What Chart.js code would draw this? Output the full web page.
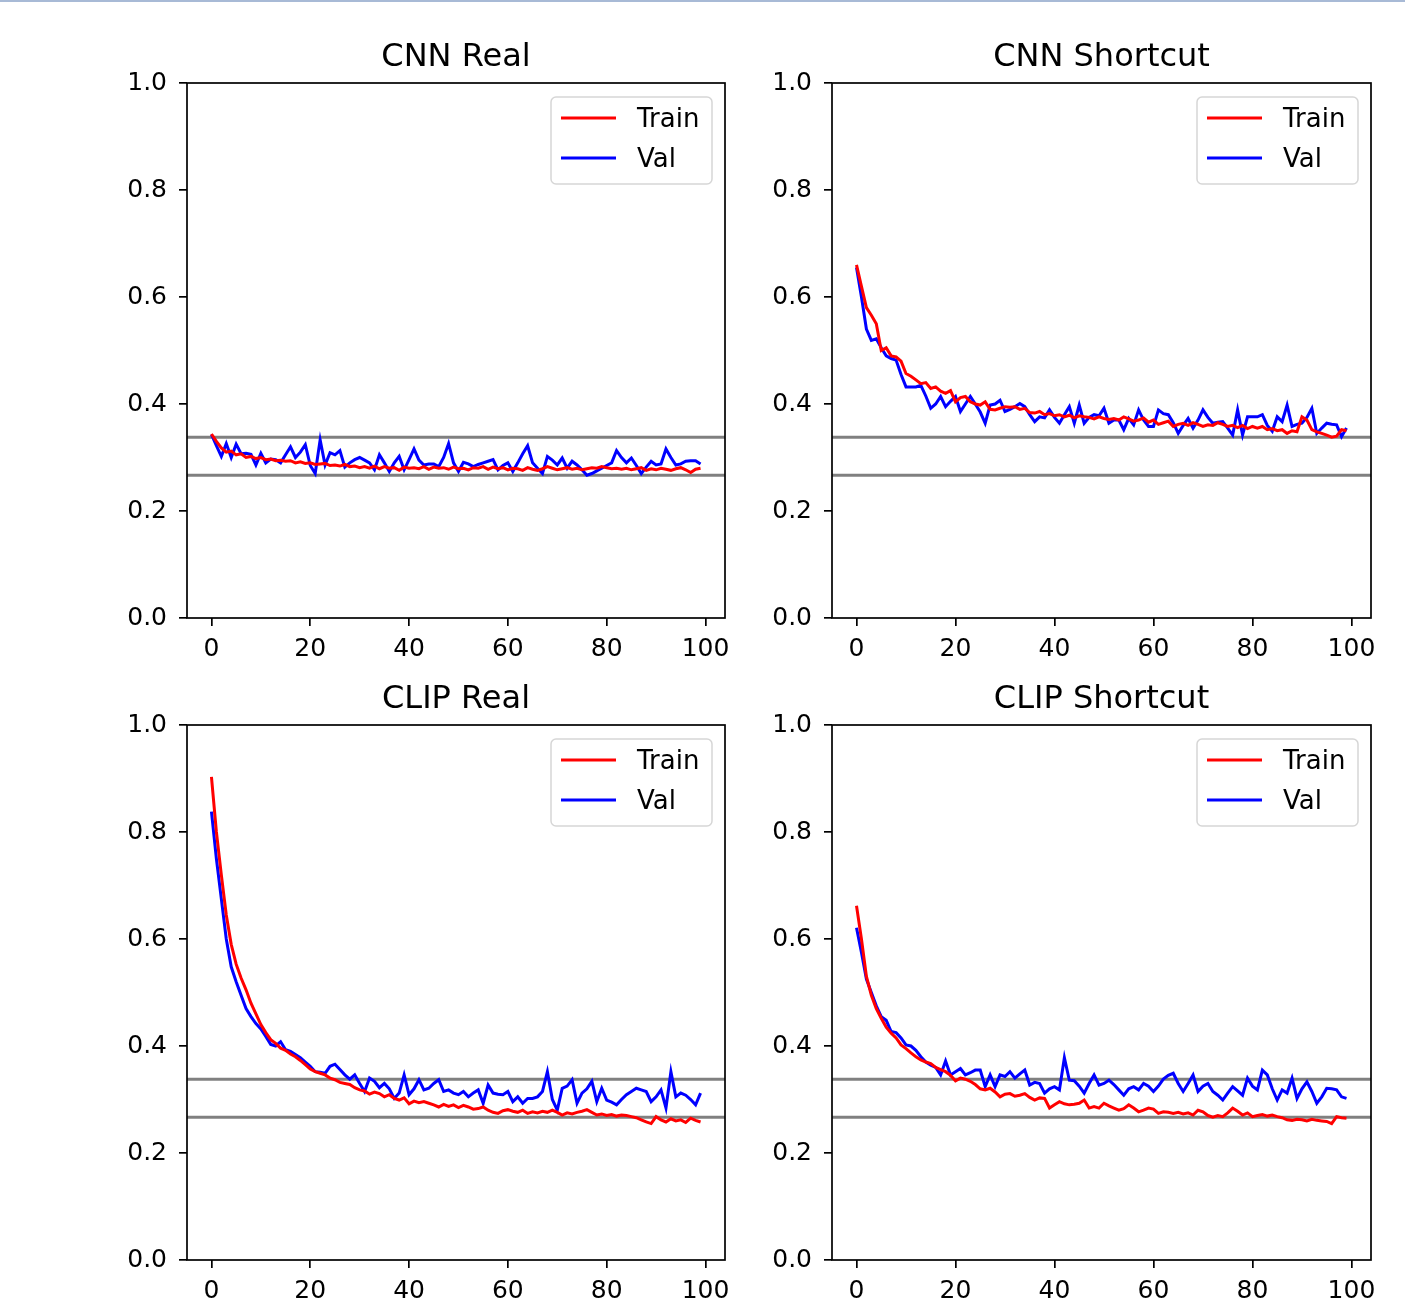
<!DOCTYPE html>
<html>
<head>
<meta charset="utf-8">
<title>Loss curves</title>
<script src="https://cdn.jsdelivr.net/npm/chart.js@4.4.1/dist/chart.umd.min.js"></script>
<style>
  body { margin: 0; background: #fff; }
  #page { position: relative; width: 1405px; height: 1314px; overflow: hidden; background: #fff; }
  #topline { position: absolute; left: 0; top: 0; width: 1405px; height: 2px; background: #a8bad6; }
  canvas { position: absolute; }
</style>
</head>
<body>
<div id="page">
  <div id="topline"></div>
  <canvas id="cnnReal" width="640" height="648" style="left:100px;top:20px"></canvas>
  <canvas id="cnnShortcut" width="641" height="648" style="left:745px;top:20px"></canvas>
  <canvas id="clipReal" width="640" height="648" style="left:100px;top:662px"></canvas>
  <canvas id="clipShortcut" width="641" height="648" style="left:745px;top:662px"></canvas>
</div>
<script>
// epochs 0..99 on the x axis
const epochs = Array.from({ length: 100 }, (_, i) => i);
const xTicks = [0, 20, 40, 60, 80, 100];
const yTicks = [0.0, 0.2, 0.4, 0.6, 0.8, 1.0];
const xMin = -4.95, xMax = 103.95;

// reference lines (axhline)
const refLines = [0.338, 0.267];

const cnnRealTrain = [
  0.344, 0.330, 0.318, 0.310, 0.312, 0.305, 0.307, 0.300, 0.302, 0.298,
  0.300, 0.296, 0.297, 0.294, 0.295, 0.293, 0.294, 0.290, 0.292, 0.289,
  0.290, 0.287, 0.288, 0.289, 0.285, 0.286, 0.284, 0.287, 0.283, 0.284,
  0.281, 0.283, 0.280, 0.284, 0.279, 0.283, 0.280, 0.281, 0.276, 0.282,
  0.280, 0.281, 0.279, 0.283, 0.278, 0.282, 0.280, 0.281, 0.278, 0.282,
  0.279, 0.280, 0.277, 0.281, 0.280, 0.283, 0.278, 0.282, 0.279, 0.281,
  0.277, 0.280, 0.279, 0.276, 0.281, 0.278, 0.276, 0.279, 0.283, 0.280,
  0.277, 0.279, 0.281, 0.278, 0.280, 0.277, 0.279, 0.281, 0.280, 0.283,
  0.281, 0.279, 0.280, 0.278, 0.280, 0.277, 0.279, 0.281, 0.276, 0.279,
  0.277, 0.280, 0.278, 0.276, 0.279, 0.281, 0.277, 0.272, 0.278, 0.280
];
const cnnRealVal = [
  0.343, 0.322, 0.302, 0.326, 0.300, 0.325, 0.307, 0.308, 0.306, 0.286,
  0.308, 0.290, 0.297, 0.296, 0.290, 0.305, 0.320, 0.300, 0.310, 0.324,
  0.285, 0.270, 0.333, 0.286, 0.309, 0.305, 0.313, 0.282, 0.290, 0.296,
  0.300, 0.295, 0.290, 0.277, 0.305, 0.290, 0.274, 0.290, 0.302, 0.277,
  0.296, 0.316, 0.295, 0.286, 0.288, 0.288, 0.283, 0.300, 0.326, 0.290,
  0.274, 0.291, 0.288, 0.283, 0.287, 0.290, 0.293, 0.296, 0.277, 0.285,
  0.290, 0.274, 0.290, 0.307, 0.322, 0.290, 0.280, 0.270, 0.302, 0.295,
  0.286, 0.299, 0.280, 0.293, 0.286, 0.277, 0.267, 0.270, 0.275, 0.280,
  0.285, 0.290, 0.313, 0.300, 0.290, 0.299, 0.285, 0.270, 0.282, 0.293,
  0.286, 0.288, 0.316, 0.300, 0.286, 0.288, 0.293, 0.294, 0.294, 0.288
];

const cnnShortcutTrain = [
  0.660, 0.620, 0.580, 0.566, 0.550, 0.500, 0.505, 0.490, 0.488, 0.480,
  0.457, 0.452, 0.445, 0.438, 0.440, 0.429, 0.432, 0.424, 0.420, 0.425,
  0.404, 0.412, 0.414, 0.404, 0.400, 0.398, 0.404, 0.390, 0.389, 0.392,
  0.395, 0.394, 0.395, 0.390, 0.392, 0.384, 0.383, 0.386, 0.380, 0.382,
  0.378, 0.380, 0.376, 0.379, 0.374, 0.378, 0.376, 0.375, 0.372, 0.376,
  0.373, 0.371, 0.373, 0.370, 0.376, 0.372, 0.368, 0.370, 0.374, 0.366,
  0.370, 0.362, 0.365, 0.368, 0.358, 0.362, 0.364, 0.360, 0.365, 0.362,
  0.358, 0.361, 0.360, 0.365, 0.362, 0.358, 0.360, 0.356, 0.360, 0.354,
  0.358, 0.355, 0.358, 0.352, 0.354, 0.350, 0.352, 0.345, 0.350, 0.348,
  0.376, 0.370, 0.352, 0.348, 0.345, 0.342, 0.338, 0.340, 0.352, 0.350
];
const cnnShortcutVal = [
  0.655, 0.600, 0.540, 0.519, 0.522, 0.505, 0.490, 0.485, 0.482, 0.455,
  0.432, 0.432, 0.432, 0.435, 0.415, 0.392, 0.400, 0.414, 0.395, 0.405,
  0.414, 0.386, 0.400, 0.414, 0.400, 0.385, 0.364, 0.398, 0.400, 0.407,
  0.386, 0.390, 0.395, 0.401, 0.395, 0.380, 0.367, 0.376, 0.374, 0.389,
  0.375, 0.364, 0.380, 0.395, 0.364, 0.398, 0.364, 0.375, 0.380, 0.378,
  0.392, 0.364, 0.370, 0.370, 0.352, 0.373, 0.361, 0.389, 0.370, 0.358,
  0.358, 0.389, 0.382, 0.380, 0.365, 0.345, 0.360, 0.373, 0.355, 0.370,
  0.389, 0.375, 0.364, 0.366, 0.367, 0.355, 0.342, 0.389, 0.342, 0.376,
  0.376, 0.376, 0.380, 0.360, 0.349, 0.376, 0.367, 0.398, 0.358, 0.362,
  0.364, 0.375, 0.392, 0.345, 0.355, 0.364, 0.362, 0.361, 0.339, 0.355
];

const clipRealTrain = [
  0.903, 0.800, 0.720, 0.645, 0.590, 0.553, 0.527, 0.505, 0.480, 0.460,
  0.440, 0.425, 0.412, 0.405, 0.396, 0.392, 0.385, 0.380, 0.373, 0.365,
  0.357, 0.352, 0.349, 0.346, 0.340, 0.337, 0.332, 0.330, 0.328, 0.322,
  0.318, 0.316, 0.310, 0.314, 0.311, 0.305, 0.309, 0.302, 0.299, 0.303,
  0.292, 0.297, 0.294, 0.296, 0.293, 0.290, 0.286, 0.291, 0.287, 0.290,
  0.285, 0.289, 0.286, 0.282, 0.283, 0.286, 0.280, 0.276, 0.274, 0.279,
  0.281, 0.278, 0.276, 0.280, 0.274, 0.277, 0.275, 0.278, 0.276, 0.280,
  0.276, 0.271, 0.275, 0.273, 0.276, 0.278, 0.281, 0.276, 0.271, 0.273,
  0.270, 0.272, 0.269, 0.271, 0.270, 0.268, 0.266, 0.262, 0.258, 0.255,
  0.268, 0.262, 0.258, 0.264, 0.260, 0.262, 0.257, 0.265, 0.261, 0.258
];
const clipRealVal = [
  0.838, 0.750, 0.675, 0.600, 0.548, 0.520, 0.495, 0.470, 0.455, 0.442,
  0.432, 0.418, 0.403, 0.400, 0.408, 0.393, 0.390, 0.384, 0.378, 0.370,
  0.362, 0.352, 0.351, 0.349, 0.362, 0.366, 0.356, 0.346, 0.338, 0.346,
  0.330, 0.315, 0.340, 0.334, 0.322, 0.330, 0.320, 0.302, 0.312, 0.346,
  0.309, 0.320, 0.337, 0.318, 0.321, 0.330, 0.337, 0.315, 0.318, 0.312,
  0.309, 0.315, 0.305, 0.312, 0.318, 0.293, 0.327, 0.312, 0.310, 0.309,
  0.315, 0.296, 0.305, 0.293, 0.302, 0.302, 0.305, 0.315, 0.352, 0.300,
  0.280, 0.321, 0.325, 0.337, 0.293, 0.312, 0.320, 0.334, 0.296, 0.321,
  0.299, 0.295, 0.290, 0.300, 0.309, 0.315, 0.321, 0.318, 0.315, 0.296,
  0.305, 0.318, 0.284, 0.352, 0.305, 0.312, 0.308, 0.300, 0.290, 0.312
];

const clipShortcutTrain = [
  0.662, 0.600, 0.530, 0.495, 0.470, 0.452, 0.435, 0.424, 0.415, 0.402,
  0.395, 0.387, 0.380, 0.374, 0.370, 0.367, 0.360, 0.356, 0.352, 0.345,
  0.335, 0.340, 0.338, 0.334, 0.328, 0.320, 0.318, 0.321, 0.314, 0.305,
  0.310, 0.311, 0.306, 0.308, 0.311, 0.304, 0.299, 0.303, 0.302, 0.284,
  0.290, 0.296, 0.292, 0.290, 0.291, 0.293, 0.299, 0.284, 0.287, 0.284,
  0.293, 0.288, 0.284, 0.280, 0.283, 0.290, 0.284, 0.277, 0.280, 0.284,
  0.282, 0.274, 0.277, 0.276, 0.274, 0.276, 0.273, 0.275, 0.271, 0.280,
  0.277, 0.270, 0.267, 0.270, 0.268, 0.275, 0.284, 0.278, 0.271, 0.275,
  0.268, 0.270, 0.272, 0.269, 0.271, 0.268, 0.266, 0.262, 0.261, 0.263,
  0.262, 0.260, 0.263, 0.261, 0.260, 0.259, 0.255, 0.268, 0.266, 0.265
];
const clipShortcutVal = [
  0.621, 0.575, 0.525, 0.500, 0.475, 0.455, 0.448, 0.427, 0.425, 0.415,
  0.402, 0.400, 0.392, 0.380, 0.370, 0.364, 0.360, 0.346, 0.372, 0.346,
  0.352, 0.358, 0.346, 0.350, 0.355, 0.355, 0.324, 0.346, 0.324, 0.346,
  0.343, 0.352, 0.340, 0.348, 0.355, 0.327, 0.332, 0.330, 0.312, 0.320,
  0.324, 0.318, 0.378, 0.336, 0.335, 0.325, 0.312, 0.330, 0.346, 0.327,
  0.330, 0.336, 0.328, 0.318, 0.308, 0.320, 0.324, 0.318, 0.330, 0.325,
  0.315, 0.325, 0.338, 0.345, 0.349, 0.330, 0.315, 0.330, 0.346, 0.315,
  0.325, 0.330, 0.315, 0.308, 0.299, 0.312, 0.324, 0.316, 0.308, 0.340,
  0.325, 0.318, 0.355, 0.346, 0.320, 0.299, 0.318, 0.312, 0.340, 0.302,
  0.320, 0.333, 0.315, 0.293, 0.305, 0.321, 0.320, 0.318, 0.305, 0.302
];

const FONT = "'DejaVu Sans', 'Liberation Sans', sans-serif";
Chart.defaults.font.family = FONT;
Chart.defaults.color = '#000';

// full box around the plot area, like matplotlib spines
const framePlugin = {
  id: 'frame',
  afterDatasetsDraw(chart) {
    const { ctx, chartArea: a } = chart;
    ctx.save();
    ctx.strokeStyle = '#000';
    ctx.lineWidth = 1.7;
    ctx.strokeRect(a.left, a.top, a.right - a.left, a.bottom - a.top);
    ctx.restore();
  }
};

// axes title centred over the plot area (not the whole canvas)
const axesTitle = {
  id: 'axesTitle',
  afterDraw(chart, args, opts) {
    const { ctx, chartArea: a } = chart;
    ctx.save();
    ctx.font = '32px ' + FONT;
    ctx.fillStyle = '#000';
    ctx.textAlign = 'center';
    ctx.textBaseline = 'middle';
    ctx.fillText(opts.text, (a.left + a.right) / 2, a.top - 25);
    ctx.restore();
  }
};

// legend drawn inside the axes, upper right
const boxLegend = {
  id: 'boxLegend',
  afterDraw(chart) {
    const { ctx, chartArea: a } = chart;
    const items = chart.data.datasets.filter(d => d.inLegend);
    const w = 161, h = 87;
    const x = a.right - 13 - w, y = a.top + 14;
    ctx.save();
    ctx.beginPath();
    ctx.roundRect(x, y, w, h, 5);
    ctx.fillStyle = 'rgba(255,255,255,0.8)';
    ctx.fill();
    ctx.strokeStyle = '#d6d6d6';
    ctx.lineWidth = 1.5;
    ctx.stroke();
    ctx.font = '26px ' + FONT;
    ctx.textBaseline = 'middle';
    items.forEach((d, i) => {
      const ly = y + 21 + i * 40;
      ctx.beginPath();
      ctx.moveTo(x + 10, ly);
      ctx.lineTo(x + 65, ly);
      ctx.strokeStyle = d.borderColor;
      ctx.lineWidth = 3;
      ctx.stroke();
      ctx.fillStyle = '#000';
      ctx.fillText(d.label, x + 86, ly + 2);
    });
    ctx.restore();
  }
};

function makeChart(id, title, train, val) {
  const toPts = vals => epochs.map((e, i) => ({ x: e, y: vals[i] }));
  const refSets = refLines.map(v => ({
    label: 'ref',
    data: [{ x: xMin, y: v }, { x: xMax, y: v }],
    borderColor: '#808080',
    borderWidth: 3,
    pointRadius: 0
  }));
  new Chart(document.getElementById(id), {
    type: 'line',
    data: {
      datasets: [
        { label: 'Train', data: toPts(train), borderColor: '#ff0000', borderWidth: 3, pointRadius: 0, tension: 0, inLegend: true },
        { label: 'Val', data: toPts(val), borderColor: '#0000ff', borderWidth: 3, pointRadius: 0, tension: 0, inLegend: true },
        ...refSets
      ]
    },
    options: {
      responsive: false,
      animation: false,
      devicePixelRatio: 1,
      layout: { padding: { left: 0, right: 15, top: 63, bottom: 0 } },
      plugins: {
        legend: { display: false },
        tooltip: { enabled: false },
        title: { display: false },
        axesTitle: { text: title }
      },
      scales: {
        x: {
          type: 'linear',
          min: xMin,
          max: xMax,
          afterBuildTicks: s => { s.ticks = xTicks.map(v => ({ value: v })); },
          afterFit: s => { s.height = 50; },
          grid: { display: true, drawOnChartArea: false, drawTicks: true, tickLength: 8, color: '#000', lineWidth: 1.7 },
          border: { display: false },
          ticks: { font: { size: 25 }, color: '#000', padding: 8, maxRotation: 0 }
        },
        y: {
          type: 'linear',
          min: 0,
          max: 1,
          afterBuildTicks: s => { s.ticks = yTicks.map(v => ({ value: v })); },
          afterFit: s => { s.width = 87; },
          grid: { display: true, drawOnChartArea: false, drawTicks: true, tickLength: 8, color: '#000', lineWidth: 1.7 },
          border: { display: false },
          ticks: { font: { size: 25 }, color: '#000', padding: 12, callback: v => v.toFixed(1) }
        }
      }
    },
    plugins: [framePlugin, axesTitle, boxLegend]
  });
}

makeChart('cnnReal', 'CNN Real', cnnRealTrain, cnnRealVal);
makeChart('cnnShortcut', 'CNN Shortcut', cnnShortcutTrain, cnnShortcutVal);
makeChart('clipReal', 'CLIP Real', clipRealTrain, clipRealVal);
makeChart('clipShortcut', 'CLIP Shortcut', clipShortcutTrain, clipShortcutVal);
</script>
</body>
</html>
